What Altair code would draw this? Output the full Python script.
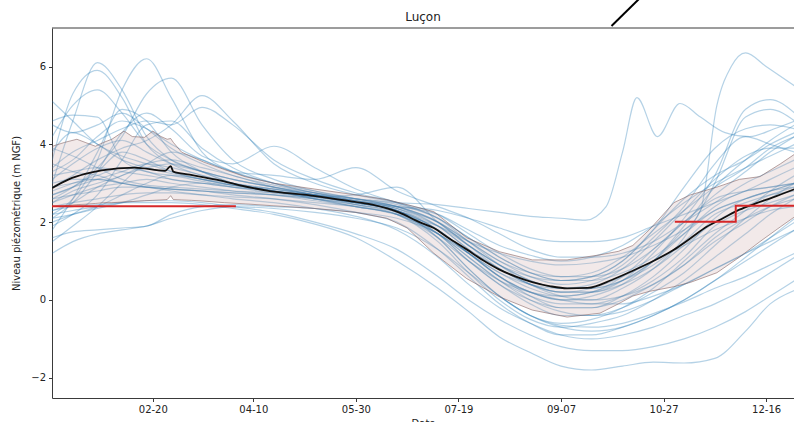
import altair as alt
import pandas as pd

# ---------------- data (day of year, 1 = Jan 1) ----------------
days = [2, 12, 24, 36, 48, 60, 75, 90, 110, 130, 150, 170, 190, 205, 220, 235,
        250, 265, 280, 295, 310, 325, 340, 352, 364]

s01 = [3.0, 4.6, 6.1, 5.4, 4.2, 3.6, 3.3, 3.0, 2.8, 2.7, 2.55, 2.4, 1.9, 1.3, 0.8, 0.4, 0.2, 0.2, 0.4, 0.8, 1.4, 2.0, 2.4, 2.7, 2.9]
s02 = [2.2, 2.6, 3.6, 5.4, 6.2, 5.2, 3.8, 3.3, 3.0, 2.75, 2.6, 2.45, 2.1, 1.6, 1.1, 0.7, 0.5, 0.6, 1.0, 1.8, 2.6, 3.2, 3.6, 4.0, 4.3]
s03 = [3.6, 5.3, 5.9, 5.2, 4.0, 3.5, 3.2, 3.0, 2.85, 2.7, 2.55, 2.35, 1.8, 1.2, 0.6, 0.1, -0.2, -0.2, 0.1, 0.6, 1.3, 2.1, 2.6, 2.8, 3.0]
s04 = [2.6, 2.9, 3.4, 4.2, 5.3, 5.7, 4.5, 3.6, 3.1, 2.8, 2.6, 2.4, 2.0, 1.4, 0.9, 0.5, 0.3, 0.3, 0.5, 0.9, 1.5, 2.2, 2.5, 2.7, 2.8]
s05 = [4.2, 5.0, 5.4, 4.8, 4.0, 3.6, 3.3, 3.1, 2.9, 2.7, 2.5, 2.3, 1.7, 1.0, 0.4, -0.1, -0.4, -0.4, -0.2, 0.2, 0.7, 1.4, 2.1, 2.6, 3.0]
s06 = [2.9, 3.2, 3.6, 3.9, 4.1, 4.5, 5.25, 4.6, 3.5, 3.0, 2.7, 2.5, 2.2, 1.7, 1.2, 0.8, 0.6, 0.6, 0.8, 1.3, 2.0, 2.7, 3.3, 3.8, 4.2]
s07 = [3.4, 3.8, 4.1, 4.4, 4.6, 4.5, 4.95, 4.5, 3.6, 3.1, 2.75, 2.5, 2.1, 1.5, 0.9, 0.4, 0.1, 0.0, 0.1, 0.4, 0.9, 1.6, 2.1, 2.4, 2.6]
s08 = [1.8, 2.6, 3.8, 4.9, 4.6, 3.8, 3.3, 3.0, 2.8, 2.6, 2.45, 2.25, 1.6, 0.8, 0.1, -0.4, -0.7, -0.8, -0.7, -0.4, 0.0, 0.5, 1.0, 1.4, 1.8]
s09 = [5.1, 4.6, 4.0, 3.7, 3.5, 3.3, 3.1, 2.95, 2.8, 2.65, 2.5, 2.3, 1.8, 1.2, 0.6, 0.2, 0.0, 0.0, 0.3, 0.8, 1.6, 3.0, 4.7, 4.9, 4.6]
s10 = [4.6, 4.75, 4.7, 3.6, 3.3, 3.2, 3.05, 2.9, 2.75, 2.65, 2.7, 2.9, 2.0, 1.4, 0.9, 0.5, 0.3, 0.3, 0.5, 1.0, 1.7, 2.4, 2.8, 2.9, 3.0]
s11 = [2.1, 2.5, 3.3, 4.3, 4.8, 4.4, 3.7, 3.5, 3.95, 3.4, 2.85, 2.5, 2.1, 1.6, 1.1, 0.7, 0.5, 0.5, 0.7, 1.1, 1.7, 2.3, 2.6, 2.8, 2.9]
s12 = [2.5, 2.8, 3.0, 3.2, 3.5, 3.8, 3.6, 3.3, 3.2, 3.1, 3.4, 2.8, 2.4, 2.1, 1.7, 1.3, 1.1, 1.1, 1.2, 1.5, 2.0, 2.5, 3.0, 3.3, 3.6]
s13 = [4.5, 4.3, 4.5, 4.8, 4.4, 3.9, 3.5, 3.2, 2.95, 2.75, 2.55, 2.35, 1.9, 1.3, 0.8, 0.4, 0.2, 0.2, 0.5, 1.2, 2.1, 3.2, 4.9, 5.15, 4.8]
s14 = [1.2, 1.5, 1.7, 1.8, 1.9, 2.1, 2.3, 2.4, 2.35, 2.25, 2.1, 1.85, 1.3, 0.7, 0.1, -0.4, -0.65, -0.7, -0.6, -0.35, -0.05, 0.3, 0.6, 0.9, 1.2]
s15 = [1.6, 1.75, 1.8, 1.85, 1.9, 2.2, 2.4, 2.45, 2.4, 2.35, 2.25, 2.1, 1.7, 1.1, 0.5, 0.0, -0.3, -0.4, -0.3, 0.0, 0.4, 0.8, 1.2, 1.6, 2.0]
s16 = [2.3, 2.4, 2.45, 2.5, 2.5, 2.5, 2.45, 2.35, 2.2, 1.95, 1.6, 1.0, 0.3, -0.3, -0.95, -1.35, -1.7, -1.8, -1.7, -1.6, -1.62, -1.5, -0.8, -0.1, 0.25]
s17 = [2.2, 2.3, 2.4, 2.5, 2.55, 2.55, 2.5, 2.4, 2.25, 2.0, 1.7, 1.3, 0.6, 0.0, -0.5, -0.9, -1.2, -1.3, -1.3, -1.2, -1.0, -0.7, -0.3, 0.1, 0.5]
s18 = [2.9, 3.0, 3.1, 3.0, 2.9, 2.8, 2.7, 2.6, 2.5, 2.35, 2.15, 1.8, 1.1, 0.4, -0.2, -0.6, -0.9, -1.0, -0.9, -0.7, -0.4, -0.1, 0.3, 0.7, 1.1]
s21 = [2.8, 3.0, 3.2, 3.4, 3.3, 3.1, 3.0, 2.9, 2.8, 2.65, 2.5, 2.3, 1.7, 1.0, 0.4, 0.0, -0.2, -0.2, 0.0, 0.4, 0.9, 1.5, 2.0, 2.4, 2.7]
s22 = [3.9, 3.7, 3.4, 3.1, 2.95, 2.9, 2.85, 2.8, 2.75, 2.65, 2.5, 2.3, 1.8, 1.2, 0.7, 0.3, 0.1, 0.2, 0.6, 1.3, 2.0, 2.6, 2.8, 2.9, 3.0]
s23 = [2.0, 2.2, 2.4, 2.7, 3.0, 3.2, 3.1, 3.0, 2.85, 2.7, 2.5, 2.3, 1.6, 0.8, 0.1, -0.4, -0.6, -0.5, -0.2, 0.3, 1.0, 1.7, 2.3, 2.8, 3.2]
s24 = [3.5, 3.3, 3.2, 3.0, 2.9, 2.85, 2.8, 2.75, 2.7, 2.6, 2.45, 2.25, 1.7, 1.1, 0.5, 0.1, -0.1, -0.1, 0.1, 0.5, 1.1, 1.9, 2.3, 2.5, 2.7]
s25 = [2.4, 2.5, 2.6, 2.7, 2.75, 2.75, 2.7, 2.65, 2.6, 2.5, 2.4, 2.2, 1.9, 1.5, 1.2, 1.0, 0.9, 0.95, 1.1, 1.4, 1.8, 2.3, 2.6, 2.8, 3.0]
s26 = [3.0, 3.1, 3.1, 3.0, 2.9, 2.85, 2.8, 2.7, 2.6, 2.45, 2.25, 2.0, 1.3, 0.6, -0.1, -0.6, -0.9, -0.9, -0.7, -0.4, 0.0, 0.5, 1.1, 1.6, 2.1]
s27 = [1.9, 2.2, 2.7, 3.6, 4.5, 4.6, 3.9, 3.4, 3.0, 2.75, 2.55, 2.4, 2.2, 1.8, 1.4, 1.15, 1.0, 1.1, 1.4, 1.9, 2.5, 3.0, 3.4, 3.7, 4.0]
s28 = [2.6, 2.7, 2.8, 2.9, 2.9, 2.85, 2.8, 2.75, 2.7, 2.6, 2.5, 2.4, 2.3, 2.1, 1.85, 1.6, 1.5, 1.5, 1.6, 1.9, 2.2, 2.5, 2.8, 3.1, 3.4]
s29 = [2.1, 2.2, 2.35, 2.5, 2.7, 2.9, 3.0, 2.95, 2.8, 2.6, 2.4, 2.2, 1.7, 1.2, 0.6, 0.2, 0.0, -0.1, -0.1, 0.1, 0.4, 0.8, 1.2, 1.5, 1.8]
s30 = [3.3, 3.6, 4.2, 4.6, 4.4, 4.0, 3.6, 3.3, 3.0, 2.8, 2.6, 2.4, 2.0, 1.4, 0.8, 0.4, 0.2, 0.3, 0.6, 1.0, 1.4, 1.8, 2.1, 2.3, 2.4]
s31 = [2.7, 2.9, 3.3, 3.8, 3.6, 3.3, 3.1, 2.95, 2.8, 2.65, 2.5, 2.3, 1.9, 1.4, 0.9, 0.6, 0.5, 0.6, 1.0, 1.8, 2.9, 3.9, 4.4, 4.5, 4.4]
s32 = [3.1, 3.5, 3.9, 4.1, 3.8, 3.5, 3.3, 3.1, 2.9, 2.75, 2.6, 2.4, 2.0, 1.5, 1.0, 0.6, 0.4, 0.5, 0.9, 1.6, 2.4, 3.5, 4.2, 4.0, 3.8]
s33 = [2.3, 2.5, 2.9, 3.2, 3.4, 3.5, 3.3, 3.1, 2.9, 2.7, 2.5, 2.3, 1.8, 1.2, 0.6, 0.2, 0.0, 0.1, 0.4, 1.0, 1.9, 2.9, 3.6, 4.1, 4.5]
s34 = [1.5, 1.9, 2.4, 3.0, 3.5, 3.6, 3.4, 3.2, 2.9, 2.7, 2.45, 2.2, 1.5, 0.7, 0.0, -0.5, -0.7, -0.6, -0.4, 0.0, 0.5, 1.1, 1.7, 2.2, 2.6]
s35 = [3.8, 4.3, 4.0, 3.6, 3.4, 3.25, 3.1, 2.95, 2.85, 2.7, 2.55, 2.35, 2.0, 1.5, 1.0, 0.7, 0.6, 0.7, 1.1, 1.7, 2.3, 2.9, 3.4, 3.9, 4.2]
s36 = [2.5, 2.7, 2.9, 3.0, 3.1, 3.0, 2.9, 2.8, 2.7, 2.55, 2.4, 2.2, 1.7, 1.2, 0.7, 0.4, 0.3, 0.4, 0.8, 1.5, 2.3, 3.1, 3.7, 3.9, 3.9]

# two years with a sharp autumn recharge (own sampling days)
days_a = [2, 12, 24, 36, 48, 60, 75, 90, 110, 130, 150, 170, 190, 205, 220, 235,
          250, 262, 272, 280, 287, 297, 308, 318, 330, 342, 354, 364]
s19 = [3.2, 3.3, 3.4, 3.3, 3.2, 3.1, 3.0, 2.9, 2.8, 2.7, 2.6, 2.5, 2.45, 2.35, 2.25, 2.15,
       2.1, 2.05, 2.4, 3.8, 5.2, 4.2, 5.05, 4.7, 4.3, 4.2, 4.4, 4.6]
days_b = [2, 12, 24, 36, 48, 60, 75, 90, 110, 130, 150, 170, 190, 205, 220, 235,
          250, 265, 280, 295, 308, 318, 326, 333, 340, 350, 364]
s20 = [2.7, 2.9, 3.1, 3.3, 3.5, 3.4, 3.2, 3.0, 2.8, 2.6, 2.4, 2.2, 1.6, 1.0, 0.5, 0.2,
       0.1, 0.2, 0.5, 1.0, 1.7, 2.3, 5.0, 6.0, 6.35, 6.0, 5.5]

# median of all years
median_days = [2, 10, 18, 26, 42, 57, 59.7, 61, 69, 82, 93, 108, 126, 143, 158, 171, 181, 188,
               195, 204, 212, 220, 228, 236, 245, 253, 263, 275, 285, 295, 305, 313, 321,
               329, 337, 345, 353, 364]
median_vals = [2.88, 3.1, 3.24, 3.33, 3.4, 3.32, 3.44, 3.3, 3.22, 3.09, 2.95, 2.8, 2.7, 2.57,
               2.45, 2.25, 2.0, 1.85, 1.6, 1.3, 1.02, 0.78, 0.6, 0.46, 0.35, 0.3, 0.31, 0.52,
               0.75, 1.0, 1.29, 1.58, 1.88, 2.1, 2.32, 2.48, 2.63, 2.85]

# quantile band
band_days = [2, 8, 14, 18, 23, 27, 31, 37, 41, 47, 51, 55, 58, 59.7, 61, 65, 70, 76, 86, 96,
             110, 130, 150, 165, 175, 188, 204, 220, 236, 253, 269, 278, 285, 293, 305, 313,
             326, 337, 347, 357, 364]
band_high = [3.95, 4.05, 4.13, 4.05, 3.95, 4.05, 4.13, 4.34, 4.2, 4.18, 4.34, 4.2, 4.13, 4.15,
             4.05, 3.8, 3.68, 3.54, 3.35, 3.17, 3.0, 2.85, 2.7, 2.58, 2.45, 2.27, 1.6, 1.24,
             1.03, 1.03, 1.16, 1.25, 1.4, 1.8, 2.5, 2.7, 2.9, 3.1, 3.17, 3.5, 3.75]
band_low = [2.4, 2.42, 2.45, 2.46, 2.48, 2.5, 2.5, 2.52, 2.53, 2.55, 2.56, 2.57, 2.58, 2.68,
            2.58, 2.57, 2.56, 2.54, 2.5, 2.47, 2.42, 2.35, 2.25, 2.1, 1.85, 1.2, 0.55, 0.08,
            -0.26, -0.44, -0.34, -0.1, 0.1, 0.22, 0.34, 0.45, 0.7, 1.1, 1.5, 1.88, 2.14]

# thresholds (red)
red1_days = [1.0, 91.5]
red1_vals = [2.41, 2.41]
red2_days = [305.5, 335.2, 364]
red2_vals = [2.01, 2.42, 2.42]

tick_days = [51, 100, 150, 200, 250, 300, 350]
tick_labels = ["02-20", "04-10", "05-30", "07-19", "09-07", "10-27", "12-16"]
y_ticks = [-2, 0, 2, 4, 6]

title_text = "Luçon"
x_title = "Date"
y_title = "Niveau piézométrique (m NGF)"

# ---------------- tables ----------------
common = {"s01": s01, "s02": s02, "s03": s03, "s04": s04, "s05": s05, "s06": s06,
          "s07": s07, "s08": s08, "s09": s09, "s10": s10, "s11": s11, "s12": s12,
          "s13": s13, "s14": s14, "s15": s15, "s16": s16, "s17": s17, "s18": s18,
          "s21": s21, "s22": s22, "s23": s23, "s24": s24, "s25": s25, "s26": s26,
          "s27": s27, "s28": s28, "s29": s29, "s30": s30, "s31": s31, "s32": s32,
          "s33": s33, "s34": s34, "s35": s35, "s36": s36}
rows = []
for name, vals in common.items():
    for d, v in zip(days, vals):
        rows.append({"jour": d, "niveau": v, "annee": name})
for d, v in zip(days_a, s19):
    rows.append({"jour": d, "niveau": v, "annee": "s19"})
for d, v in zip(days_b, s20):
    rows.append({"jour": d, "niveau": v, "annee": "s20"})
years_df = pd.DataFrame(rows)

median_df = pd.DataFrame({"jour": median_days, "niveau": median_vals})
band_df = pd.DataFrame({"jour": band_days, "haut": band_high, "bas": band_low})
red_df = pd.DataFrame(
    [{"jour": d, "niveau": v, "seg": "a"} for d, v in zip(red1_days, red1_vals)]
    + [{"jour": d, "niveau": v, "seg": "b"} for d, v in zip(red2_days, red2_vals)]
)

# ---------------- chart ----------------
W, H = 742, 370
FONT = "DejaVu Sans"
AX = "#3a3a3a"

label_expr = ("[" + ",".join(f"'{t}'" for t in tick_labels) + "][indexof(["
              + ",".join(str(d) for d in tick_days) + "], datum.value)]")

xs = alt.Scale(domain=[1.85, 363.6], nice=False, zero=False)
ys = alt.Scale(domain=[-2.52, 6.99], nice=False, zero=False)

x_axis = alt.Axis(values=tick_days, labelExpr=label_expr, title=x_title, grid=False,
                  tickSize=3.5, labelPadding=3, titleY=20, titleBaseline="top",
                  labelFontSize=10, titleFontSize=10, titleFontWeight="normal")
y_axis = alt.Axis(values=y_ticks, title=y_title, grid=False,
                  tickSize=3.5, labelPadding=3, titleX=-36, titleY=H / 2, titleAngle=270,
                  titleAlign="center", titleBaseline="middle",
                  labelFontSize=10, titleFontSize=10, titleFontWeight="normal")


def X():
    return alt.X("jour:Q", scale=xs, axis=x_axis)


def Y(field):
    return alt.Y(f"{field}:Q", scale=ys, axis=y_axis)


years = alt.Chart(years_df).mark_line(
    interpolate="monotone", color="#1f77b4", opacity=0.33, strokeWidth=1.2, clip=True
).encode(x=X(), y=Y("niveau"), detail="annee:N")

band = alt.Chart(band_df).mark_area(
    color="#c29a9a", opacity=0.22, clip=True
).encode(x=X(), y=Y("haut"), y2="bas:Q")

band_hi = alt.Chart(band_df).mark_line(color="#7d5a5a", opacity=0.55, strokeWidth=1, clip=True
                                       ).encode(x=X(), y=Y("haut"))
band_lo = alt.Chart(band_df).mark_line(color="#7d5a5a", opacity=0.55, strokeWidth=1, clip=True
                                       ).encode(x=X(), y=Y("bas"))

median = alt.Chart(median_df).mark_line(
    interpolate="monotone", color="#111111", strokeWidth=1.8, clip=True
).encode(x=X(), y=Y("niveau"))

red = alt.Chart(red_df).mark_line(
    interpolate="step-after", color="#d62728", strokeWidth=2, clip=True
).encode(x=X(), y=Y("niveau"), detail="seg:N")

one = alt.Data(values=[{"k": 1}])
top_spine = alt.Chart(one).mark_rule(color=AX, strokeWidth=1).encode(
    x=alt.value(0), x2=alt.value(W), y=alt.value(0))
stroke_mark = alt.Chart(one).mark_rule(color="#000000", strokeWidth=2).encode(
    x=alt.value(559.5), y=alt.value(-2), x2=alt.value(588), y2=alt.value(-30))
title_mark = alt.Chart(one).mark_text(
    font=FONT, fontSize=12, color="#222222", align="center", baseline="alphabetic"
).encode(x=alt.value(W / 2), y=alt.value(-7.5), text=alt.value(title_text))

chart = alt.layer(years, band, band_hi, band_lo, median, red, top_spine, stroke_mark,
                  title_mark).properties(
    width=W, height=H,
    padding={"left": 52, "top": 28, "right": 0, "bottom": 24},
    autosize=alt.AutoSizeParams(type="none"),
    background="white",
).configure_view(stroke=None).configure_axis(
    domainColor=AX, tickColor=AX, labelColor="#222222", titleColor="#222222",
    labelFont=FONT, titleFont=FONT, domainWidth=1,
)

chart.save("out.html", embed_options={"renderer": "svg", "actions": False})
